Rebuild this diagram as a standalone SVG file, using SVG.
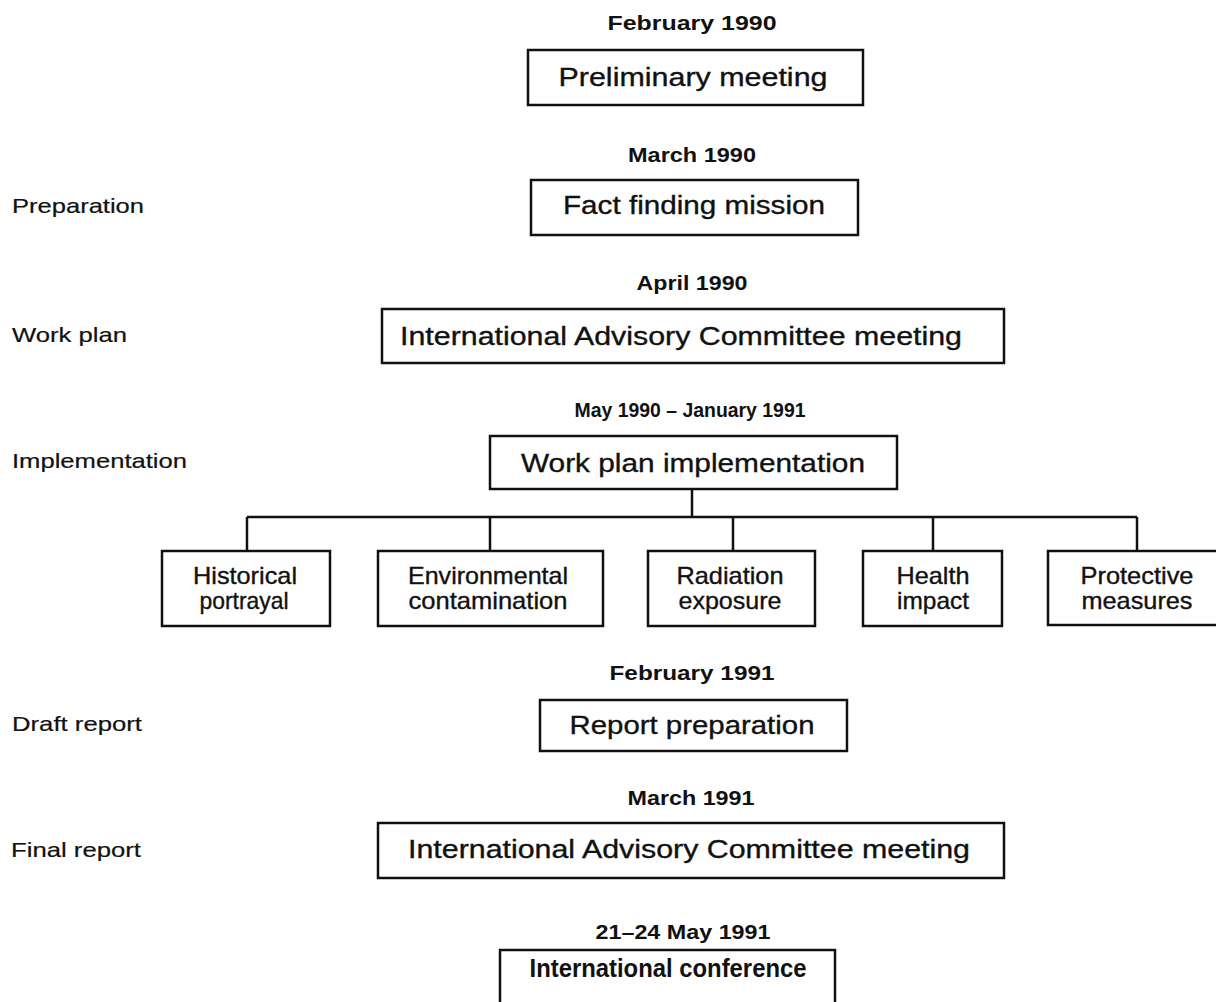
<svg xmlns="http://www.w3.org/2000/svg" width="1216" height="1002" viewBox="0 0 1216 1002">
<style>
text{font-family:"Liberation Sans",Arial,sans-serif;fill:#111;stroke:#111;stroke-width:0.35}
.date{font-size:20px;font-weight:bold;text-anchor:middle;stroke-width:0}
.main{font-size:26px;text-anchor:middle}
.bold{font-weight:bold;stroke-width:0}
.sub{font-size:24px;text-anchor:middle}
.side{font-size:21px;stroke-width:0.2}
rect{fill:#fff;stroke:#111;stroke-width:2.5}
.conn{fill:none;stroke:#111;stroke-width:2.5}
</style>
<rect x="0" y="0" width="1216" height="1002" style="stroke:none"/>
<g id="side-labels">
<text class="side" x="12" y="213" textLength="132" lengthAdjust="spacingAndGlyphs">Preparation</text>
<text class="side" x="12" y="342" textLength="115" lengthAdjust="spacingAndGlyphs">Work plan</text>
<text class="side" x="12" y="468" textLength="175" lengthAdjust="spacingAndGlyphs">Implementation</text>
<text class="side" x="12" y="731" textLength="130" lengthAdjust="spacingAndGlyphs">Draft report</text>
<text class="side" x="11" y="857" textLength="130" lengthAdjust="spacingAndGlyphs">Final report</text>
</g>
<g id="connectors">
<path class="conn" d="M692,489 V517 M247,517 H1137 M247,517 V551 M490,517 V551 M733,517 V551 M933,517 V551 M1137,517 V551"/>
</g>
<g id="n1">
<text class="date" x="692" y="30" textLength="169" lengthAdjust="spacingAndGlyphs">February 1990</text>
<rect x="528" y="50" width="335" height="55"/>
<text class="main" x="693" y="86" textLength="269" lengthAdjust="spacingAndGlyphs">Preliminary  meeting</text>
</g>
<g id="n2">
<text class="date" x="692" y="162" textLength="128" lengthAdjust="spacingAndGlyphs">March 1990</text>
<rect x="531" y="180" width="327" height="55"/>
<text class="main" x="694" y="214" textLength="262" lengthAdjust="spacingAndGlyphs">Fact finding mission</text>
</g>
<g id="n3">
<text class="date" x="692" y="290" textLength="111" lengthAdjust="spacingAndGlyphs">April 1990</text>
<rect x="382" y="309" width="622" height="54"/>
<text class="main" x="681" y="345" textLength="562" lengthAdjust="spacingAndGlyphs">International Advisory Committee meeting</text>
</g>
<g id="n4">
<text class="date" x="690" y="417" textLength="231" lengthAdjust="spacingAndGlyphs">May 1990 – January 1991</text>
<rect x="490" y="436" width="407" height="53"/>
<text class="main" x="693" y="472" textLength="344" lengthAdjust="spacingAndGlyphs">Work plan implementation</text>
</g>
<g id="s1">
<rect x="162" y="551" width="168" height="75"/>
<text class="sub" x="245" y="584" textLength="104" lengthAdjust="spacingAndGlyphs">Historical</text>
<text class="sub" x="244" y="609" textLength="89" lengthAdjust="spacingAndGlyphs">portrayal</text>
</g>
<g id="s2">
<rect x="378" y="551" width="225" height="75"/>
<text class="sub" x="488" y="584" textLength="160" lengthAdjust="spacingAndGlyphs">Environmental</text>
<text class="sub" x="488" y="609" textLength="159" lengthAdjust="spacingAndGlyphs">contamination</text>
</g>
<g id="s3">
<rect x="648" y="551" width="167" height="75"/>
<text class="sub" x="730" y="584" textLength="107" lengthAdjust="spacingAndGlyphs">Radiation</text>
<text class="sub" x="730" y="609" textLength="103" lengthAdjust="spacingAndGlyphs">exposure</text>
</g>
<g id="s4">
<rect x="863" y="551" width="139" height="75"/>
<text class="sub" x="933" y="584" textLength="73" lengthAdjust="spacingAndGlyphs">Health</text>
<text class="sub" x="933" y="609" textLength="72" lengthAdjust="spacingAndGlyphs">impact</text>
</g>
<g id="s5">
<rect x="1048" y="551" width="180" height="74"/>
<text class="sub" x="1137" y="584" textLength="113" lengthAdjust="spacingAndGlyphs">Protective</text>
<text class="sub" x="1137" y="609" textLength="111" lengthAdjust="spacingAndGlyphs">measures</text>
</g>
<g id="n5">
<text class="date" x="692" y="680" textLength="165" lengthAdjust="spacingAndGlyphs">February 1991</text>
<rect x="540" y="700" width="307" height="51"/>
<text class="main" x="692" y="734" textLength="245" lengthAdjust="spacingAndGlyphs">Report preparation</text>
</g>
<g id="n6">
<text class="date" x="691" y="805" textLength="127" lengthAdjust="spacingAndGlyphs">March 1991</text>
<rect x="378" y="823" width="626" height="55"/>
<text class="main" x="689" y="858" textLength="562" lengthAdjust="spacingAndGlyphs">International Advisory  Committee meeting</text>
</g>
<g id="n7">
<text class="date" x="683" y="939" textLength="175" lengthAdjust="spacingAndGlyphs">21–24 May 1991</text>
<rect x="500" y="950" width="335" height="70"/>
<text class="main bold" x="668" y="977" textLength="277" lengthAdjust="spacingAndGlyphs">International conference</text>
</g>
</svg>
